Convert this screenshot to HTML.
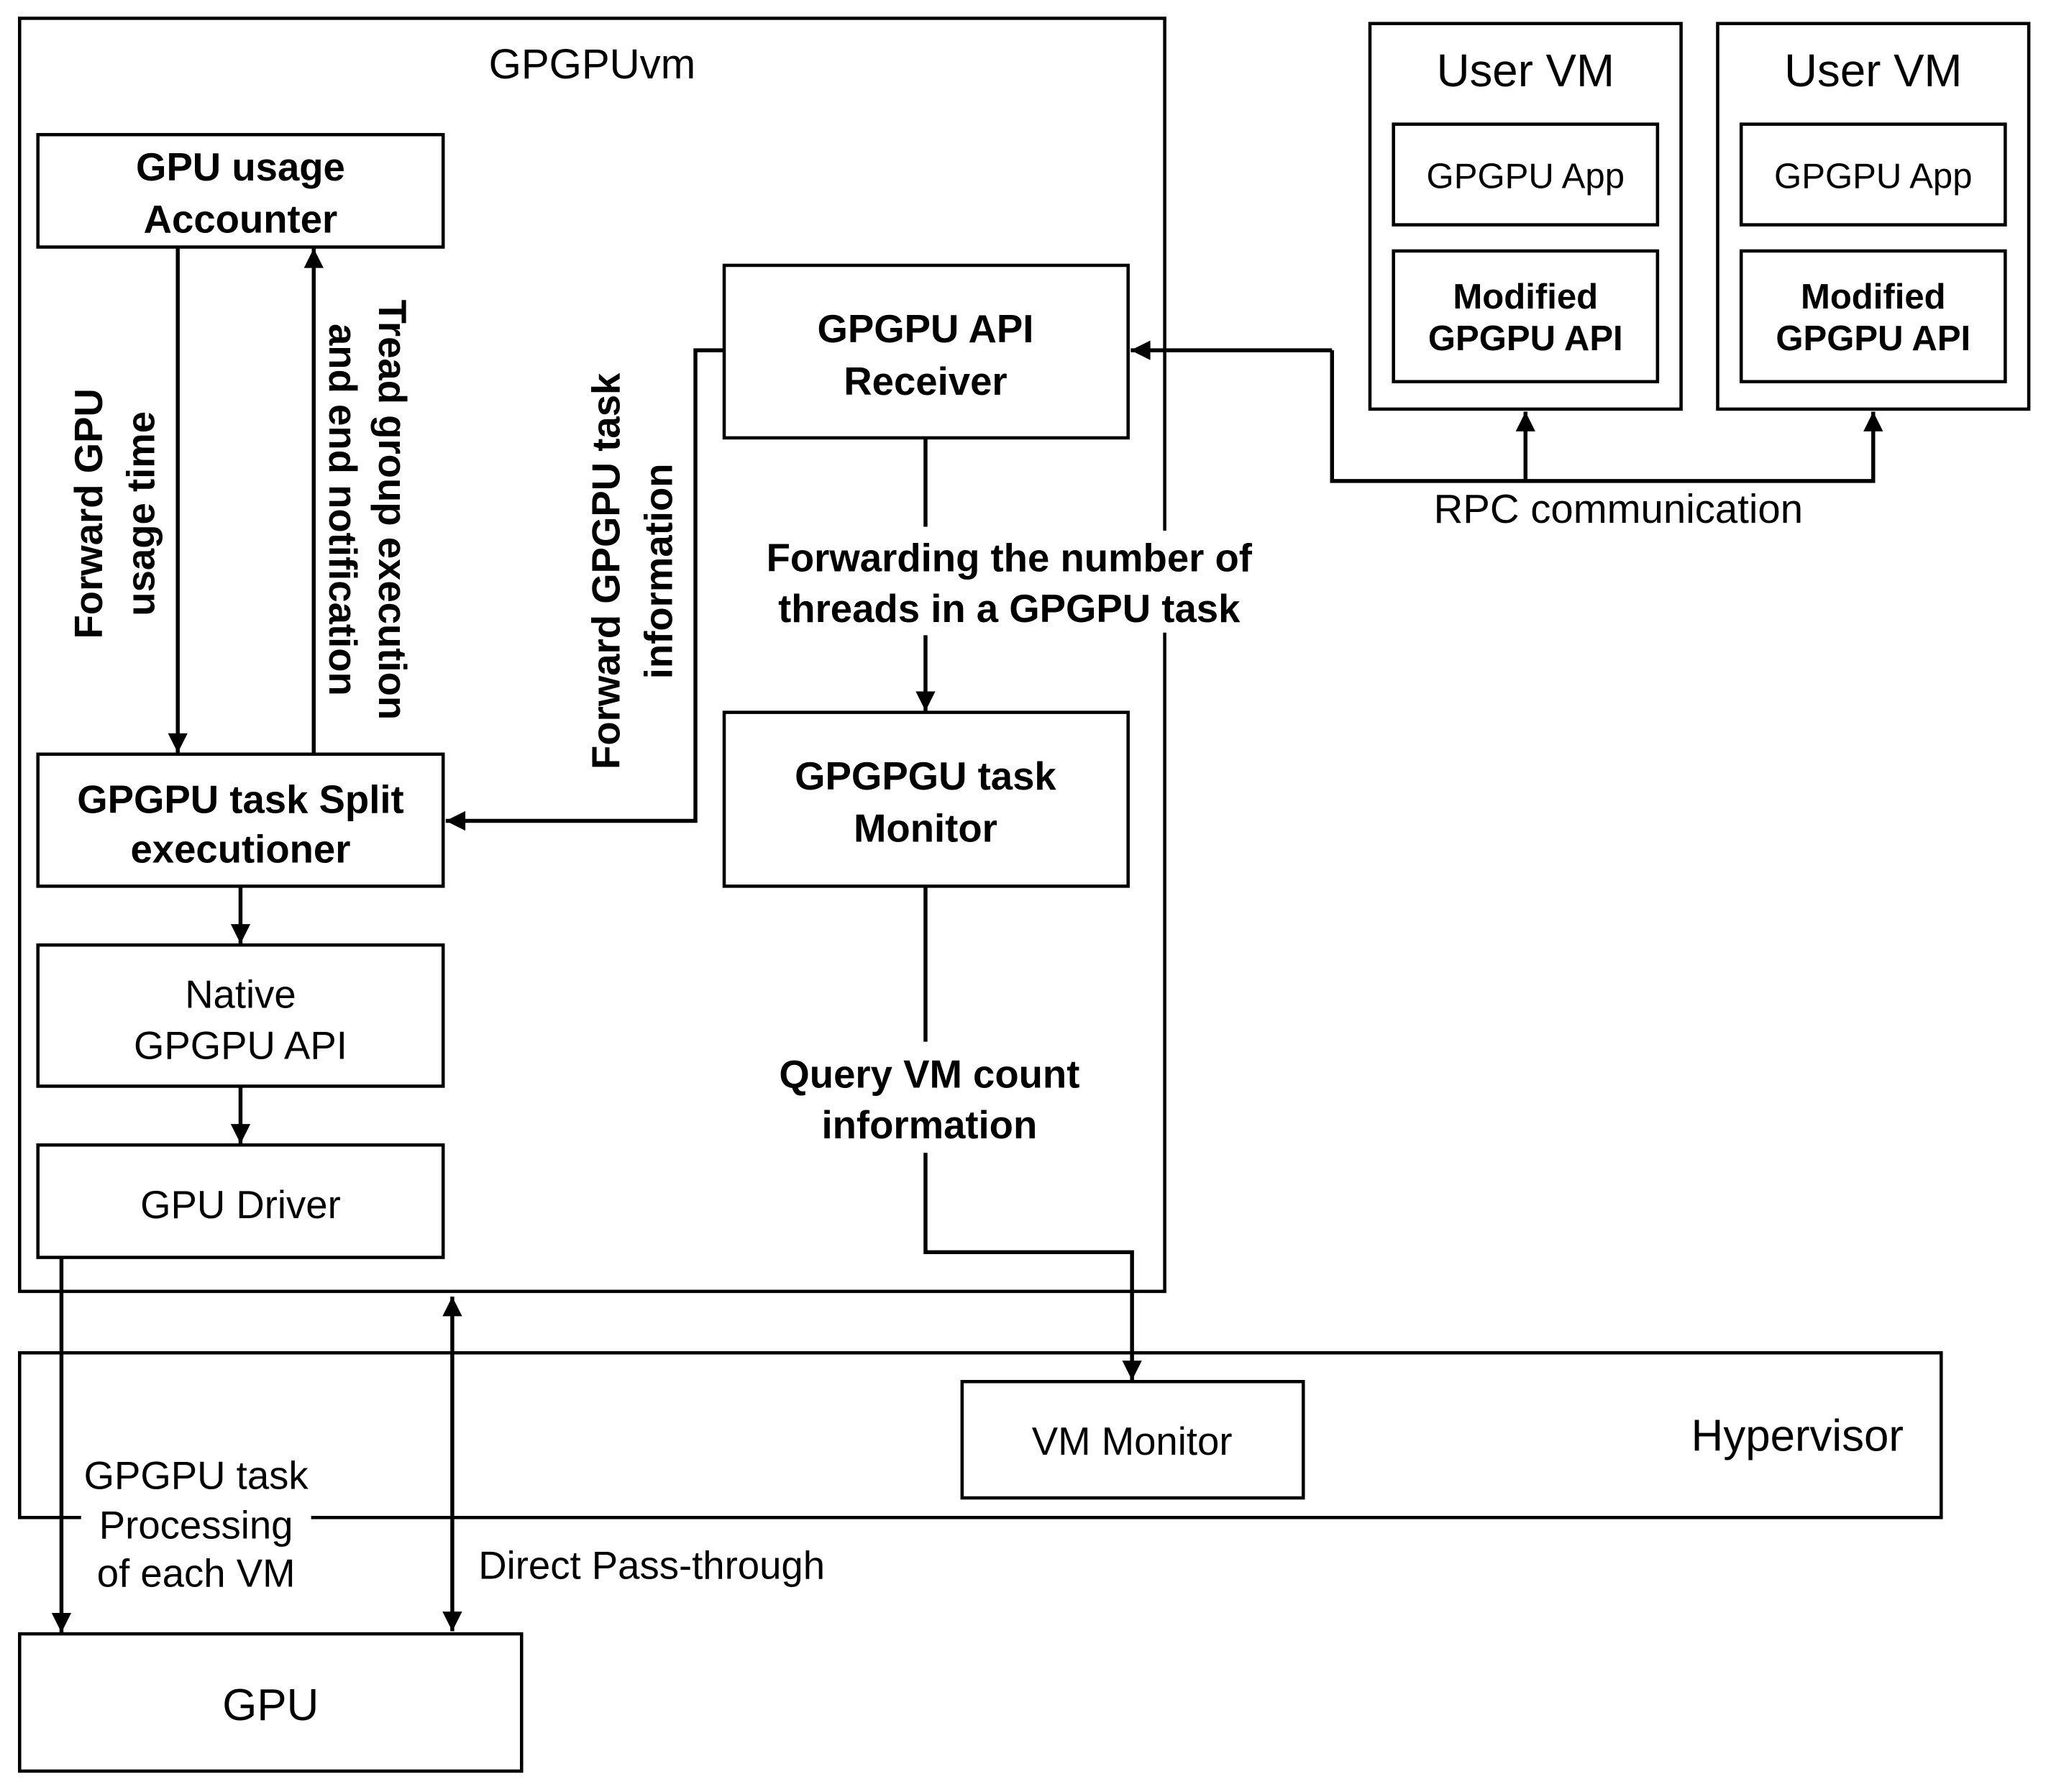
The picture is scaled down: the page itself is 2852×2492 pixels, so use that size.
<!DOCTYPE html>
<html><head><meta charset="utf-8"><style>html,body{margin:0;padding:0;background:#fff}svg{display:block}</style></head>
<body>
<svg width="2852" height="2492" viewBox="0 0 1569 1371" preserveAspectRatio="none" xmlns="http://www.w3.org/2000/svg" font-family="Liberation Sans, sans-serif">
<defs>
<marker id="a" viewBox="0 0 10 10" refX="10" refY="5" markerWidth="5.5" markerHeight="5" orient="auto-start-reverse" markerUnits="strokeWidth"><path d="M0,0L10,5L0,10z" fill="#000"/></marker>
</defs>
<g fill="none" stroke="#000" stroke-width="2.5">
<rect x="15" y="14" width="876" height="974"/>
<rect x="29" y="103" width="310" height="86"/>
<rect x="554" y="203" width="309" height="132"/>
<rect x="29" y="577" width="310" height="101"/>
<rect x="554" y="545" width="309" height="133"/>
<rect x="29" y="723" width="310" height="108"/>
<rect x="29" y="876" width="310" height="86"/>
<rect x="15" y="1035" width="1470" height="126"/>
<rect x="736" y="1057" width="261" height="89"/>
<rect x="15" y="1250" width="384" height="105"/>
<rect x="1048" y="18" width="238" height="295"/>
<rect x="1314" y="18" width="238" height="295"/>
<rect x="1066" y="95" width="202" height="77"/>
<rect x="1066" y="192" width="202" height="100"/>
<rect x="1332" y="95" width="202" height="77"/>
<rect x="1332" y="192" width="202" height="100"/>
</g>
<rect x="62" y="1115" width="176" height="110" fill="#fff"/>
<rect x="580" y="406" width="390" height="78" fill="#fff"/>
<g fill="none" stroke="#000" stroke-width="3">
<path d="M136 189V576" marker-end="url(#a)"/>
<path d="M240 576V190" marker-end="url(#a)"/>
<path d="M554 268H532V628H341" marker-end="url(#a)"/>
<path d="M184 678V722" marker-end="url(#a)"/>
<path d="M184 831V875" marker-end="url(#a)"/>
<path d="M708 335V403"/>
<path d="M708 486V544" marker-end="url(#a)"/>
<path d="M708 678V797"/>
<path d="M708 882V958H866V1056" marker-end="url(#a)"/>
<path d="M47 962V1249" marker-end="url(#a)"/>
<path d="M346 992V1248" marker-start="url(#a)" marker-end="url(#a)"/>
<path d="M1019 268H865" marker-end="url(#a)"/>
<path d="M1019 268V368H1433V315" marker-end="url(#a)"/>
<path d="M1167 368V315" marker-end="url(#a)"/>
</g>
<g fill="#000" text-anchor="middle">
<text x="453" y="60" font-size="32">GPGPUvm</text>
<g font-weight="bold" font-size="30">
<text x="184" y="138">GPU usage</text>
<text x="184" y="178">Accounter</text>
<text x="708" y="262">GPGPU API</text>
<text x="708" y="302">Receiver</text>
<text x="184" y="622">GPGPU task Split</text>
<text x="184" y="660">executioner</text>
<text x="708" y="604">GPGPGU task</text>
<text x="708" y="644">Monitor</text>
<text x="772" y="437">Forwarding the number of</text>
<text x="772" y="476">threads in a GPGPU task</text>
<text x="711" y="832">Query VM count</text>
<text x="711" y="871">information</text>
<text transform="translate(78 393) rotate(-90)">Forward GPU</text>
<text transform="translate(118 393) rotate(-90)">usage time</text>
<text transform="translate(290 390) rotate(90)">Tread group execution</text>
<text transform="translate(252 390) rotate(90)">and end notification</text>
<text transform="translate(474 437) rotate(-90)">Forward GPGPU task</text>
<text transform="translate(514 437) rotate(-90)">information</text>
</g>
<g font-size="30">
<text x="184" y="771">Native</text>
<text x="184" y="810">GPGPU API</text>
<text x="184" y="932">GPU Driver</text>
<text x="866" y="1113">VM Monitor</text>
<text x="150" y="1139">GPGPU task</text>
<text x="150" y="1177">Processing</text>
<text x="150" y="1214">of each VM</text>
<text x="207" y="1316" font-size="34">GPU</text>
<text x="1375" y="1110" font-size="34">Hypervisor</text>
<text x="1238" y="400" font-size="31">RPC communication</text>
<text x="1167" y="66" font-size="35">User VM</text>
<text x="1433" y="66" font-size="35">User VM</text>
<text x="1167" y="144" font-size="27">GPGPU App</text>
<text x="1433" y="144" font-size="27">GPGPU App</text>
</g>
<text x="366" y="1208" font-size="30" text-anchor="start">Direct Pass-through</text>
<g font-weight="bold" font-size="27">
<text x="1167" y="236">Modified</text>
<text x="1167" y="268">GPGPU API</text>
<text x="1433" y="236">Modified</text>
<text x="1433" y="268">GPGPU API</text>
</g>
</g>
</svg>
</body></html>
